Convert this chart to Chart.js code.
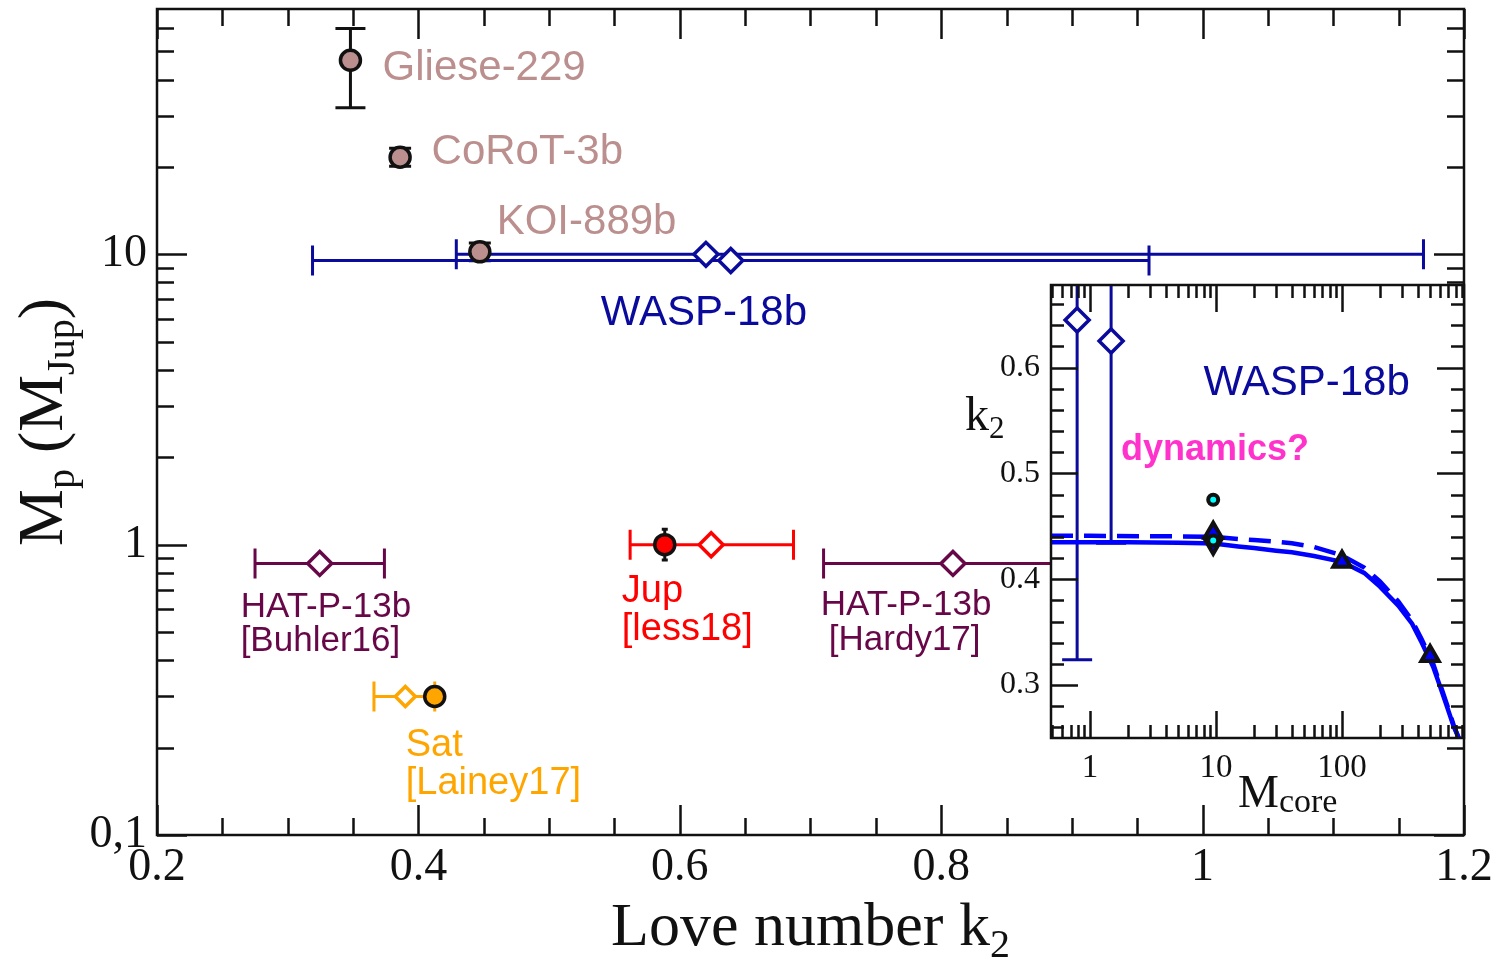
<!DOCTYPE html>
<html>
<head>
<meta charset="utf-8">
<title>Love number k2 vs planet mass</title>
<script src="https://cdn.jsdelivr.net/npm/chart.js@4.4.1/dist/chart.umd.min.js"></script>
<style>
  html, body { margin: 0; padding: 0; background: #fff; }
  #wrap { position: relative; width: 1502px; height: 958px; overflow: hidden; }
  #wrap canvas { position: absolute; }
  #main { left: 0; top: 0; }
  #inset { left: 940px; top: 270px; }
</style>
</head>
<body>
<div id="wrap">
  <canvas id="main" width="1502" height="958"></canvas>
  <canvas id="inset" width="562" height="588"></canvas>
</div>
<script>
const SERIF = '"Liberation Serif", "Times New Roman", serif';
const SANS = '"Liberation Sans", Arial, Helvetica, sans-serif';

const ROSY = "#bc8f8f";
const NAVY = "#0a0a9c";
const MAROON = "#670748";
const ORANGE = "#ffa500";
const RED = "#ff0000";
const BLUE = "#0000ff";
const INK = "#111111";

// ---- main panel: planet mass vs Love number ----
const k2Ticks = [0.2, 0.4, 0.6, 0.8, 1.0, 1.2];
const k2TickLabels = ["0.2", "0.4", "0.6", "0.8", "1", "1.2"];
const massTicks = [0.1, 1, 10];
const massTickLabels = ["0,1", "1", "10"];

// Gliese-229, CoRoT-3b, KOI-889b (filled circles, mass errors)
const bdK2 = [0.348, 0.386, 0.447];
const bdMass = [46.6, 21.6, 10.2];
const bdMassLo = [32.0, 20.1, 9.5];
const bdMassHi = [60.0, 23.2, 10.95];

// WASP-18b, two k2 determinations
const waspK2 = [0.620, 0.639];
const waspMass = [10.0, 9.53];
const waspK2Lo = [0.429, 0.319];
const waspK2Hi = [1.169, 0.959];

// HAT-P-13b: Buhler16, Hardy17
const hatK2 = [0.3245, 0.809];
const hatMass = [0.862, 0.862];
const hatK2Lo = [0.275, 0.710];
const hatK2Hi = [0.374, 0.908];

// Jupiter: Iess18 measurement and interior model
const jupK2 = [0.624];
const jupMass = [1.0];
const jupK2Lo = [0.562];
const jupK2Hi = [0.687];
const jupModelK2 = [0.5885];
const jupModelMass = [1.0];
const jupModelMassLo = [0.885];
const jupModelMassHi = [1.13];

// Saturn: Lainey17 measurement and interior model
const satK2 = [0.390];
const satMass = [0.30];
const satK2Lo = [0.366];
const satK2Hi = [0.4125];
const satModelK2 = [0.4125];
const satModelMass = [0.30];

// ---- inset: WASP-18b k2 vs core mass ----
const coreTicks = [1, 10, 100];
const coreTickLabels = ["1", "10", "100"];
const insetK2Ticks = [0.3, 0.4, 0.5, 0.6];
const insetK2TickLabels = ["0.3", "0.4", "0.5", "0.6"];

const fitCore = [0.49, 1, 2, 5, 8, 10, 15, 20, 30, 40, 60, 100, 150, 200, 280, 360, 430, 530, 600, 680, 770, 845];
const fitK2 = [0.435, 0.435, 0.435, 0.4345, 0.434, 0.4335, 0.431, 0.4295, 0.427, 0.4255, 0.422, 0.4165, 0.406, 0.393, 0.375, 0.358, 0.340, 0.317, 0.299, 0.280, 0.261, 0.250];
const fitCoreAlt = [0.49, 1, 5, 10, 15, 20, 30, 40, 60, 100, 150, 200, 280, 360, 430, 530, 600, 680, 770, 845];
const fitK2Alt = [0.441, 0.441, 0.4405, 0.440, 0.438, 0.437, 0.4355, 0.434, 0.4305, 0.4225, 0.411, 0.398, 0.379, 0.361, 0.343, 0.320, 0.301, 0.282, 0.262, 0.250];

const obsCore = [0.79, 1.47];
const obsK2 = [0.645, 0.625];
const obsK2Lo = [0.324, 0.434];
const obsK2Hi = [0.966, 0.816];

const modelUpCore = [9.5, 100, 500];
const modelUpK2 = [0.4439, 0.4165, 0.3275];
const modelDownCore = [9.5];
const modelDownK2 = [0.4335];
const dynCore = [9.5, 9.5];
const dynK2 = [0.4751, 0.4366];

// ---- helpers ----
const pts = (xs, ys) => xs.map((v, i) => ({ x: v, y: ys[i] }));
const pairs = (lo, hi) => lo.map((v, i) => [v, hi[i]]);

function diamonds(xs, ys, color, lo, hi, radius) {
  return {
    data: pts(xs, ys),
    pointStyle: "rectRot",
    pointRadius: radius || 12,
    borderWidth: 3.5,
    borderColor: color,
    backgroundColor: "#ffffff",
    xErr: lo ? pairs(lo, hi) : null,
    errColor: color,
  };
}

function discs(xs, ys, fill, lo, hi, cap) {
  return {
    data: pts(xs, ys),
    pointStyle: "circle",
    pointRadius: 10,
    borderWidth: 3.5,
    borderColor: INK,
    backgroundColor: fill,
    yErr: lo ? pairs(lo, hi) : null,
    errColor: INK,
    capHalf: cap,
  };
}

// error bars are drawn under the markers, clipped to the plot area
function errorBarPlugin(capHalf) {
  return {
    id: "errorBars",
    beforeDatasetsDraw(chart) {
      const { ctx, chartArea: a, scales: { x, y } } = chart;
      ctx.save();
      ctx.beginPath();
      ctx.rect(a.left, a.top, a.right - a.left, a.bottom - a.top);
      ctx.clip();
      chart.data.datasets.forEach((ds) => {
        if (!ds.xErr && !ds.yErr) return;
        ctx.strokeStyle = ds.errColor;
        ctx.lineWidth = 3;
        ds.data.forEach((p, i) => {
          const cap = Array.isArray(ds.capHalf) ? ds.capHalf[i] : (ds.capHalf || capHalf);
          const px = x.getPixelForValue(p.x);
          const py = y.getPixelForValue(p.y);
          ctx.beginPath();
          if (ds.xErr) {
            const x0 = x.getPixelForValue(ds.xErr[i][0]);
            const x1 = x.getPixelForValue(ds.xErr[i][1]);
            ctx.moveTo(x0, py); ctx.lineTo(x1, py);
            ctx.moveTo(x0, py - cap); ctx.lineTo(x0, py + cap);
            ctx.moveTo(x1, py - cap); ctx.lineTo(x1, py + cap);
          }
          if (ds.yErr) {
            const y0 = y.getPixelForValue(ds.yErr[i][0]);
            const y1 = y.getPixelForValue(ds.yErr[i][1]);
            ctx.moveTo(px, y0); ctx.lineTo(px, y1);
            ctx.moveTo(px - cap, y0); ctx.lineTo(px + cap, y0);
            ctx.moveTo(px - cap, y1); ctx.lineTo(px + cap, y1);
          }
          ctx.stroke();
        });
      });
      ctx.restore();
    },
  };
}

// boxed frame with inward ticks on all four sides
function framePlugin(cfg) {
  return {
    id: "frame",
    beforeDraw(chart) {
      if (!cfg.fill) return;
      const { ctx, chartArea: a } = chart;
      ctx.save();
      ctx.fillStyle = cfg.fill;
      ctx.fillRect(a.left, a.top, a.right - a.left, a.bottom - a.top);
      ctx.restore();
    },
    afterDatasetsDraw(chart) {
      const { ctx, chartArea: a, scales: { x, y } } = chart;
      ctx.save();
      ctx.strokeStyle = INK;
      ctx.lineWidth = cfg.width;
      ctx.beginPath();
      const xMarks = (vals, len) => vals.forEach((v) => {
        const px = Math.round(x.getPixelForValue(v)) + 0.5;
        ctx.moveTo(px, a.bottom); ctx.lineTo(px, a.bottom - len);
        ctx.moveTo(px, a.top); ctx.lineTo(px, a.top + len);
      });
      const yMarks = (vals, len) => vals.forEach((v) => {
        const py = Math.round(y.getPixelForValue(v)) + 0.5;
        ctx.moveTo(a.left, py); ctx.lineTo(a.left + len, py);
        ctx.moveTo(a.right, py); ctx.lineTo(a.right - len, py);
      });
      xMarks(cfg.xMajor, cfg.major);
      xMarks(cfg.xMinor, cfg.minor);
      yMarks(cfg.yMajor, cfg.major);
      yMarks(cfg.yMinor, cfg.minor);
      ctx.stroke();
      ctx.strokeRect(a.left, a.top, a.right - a.left, a.bottom - a.top);
      ctx.restore();
    },
  };
}

// text labels anchored at data coordinates (left edge, vertical middle)
function notesPlugin(items) {
  return {
    id: "notes",
    afterDatasetsDraw(chart) {
      const { ctx, scales: { x, y } } = chart;
      ctx.save();
      ctx.textAlign = "left";
      ctx.textBaseline = "middle";
      items.forEach((n) => {
        ctx.font = (n.bold ? "bold " : "") + n.size + "px " + SANS;
        ctx.fillStyle = n.color;
        ctx.fillText(n.text, x.getPixelForValue(n.x), y.getPixelForValue(n.y));
      });
      ctx.restore();
    },
  };
}

// serif text with subscripts: parts = [text, size, baseline shift]
function drawParts(ctx, parts, x, y, center) {
  let w = 0;
  parts.forEach((p) => {
    ctx.font = p[1] + "px " + SERIF;
    w += ctx.measureText(p[0]).width;
  });
  let cx = center ? x - w / 2 : x;
  parts.forEach((p) => {
    ctx.font = p[1] + "px " + SERIF;
    ctx.fillText(p[0], cx, y + p[2]);
    cx += ctx.measureText(p[0]).width;
  });
}

function titlePlugin(draw) {
  return {
    id: "titles",
    afterDraw(chart) {
      const { ctx, chartArea } = chart;
      ctx.save();
      ctx.fillStyle = INK;
      ctx.textAlign = "left";
      ctx.textBaseline = "alphabetic";
      draw(ctx, chartArea);
      ctx.restore();
    },
  };
}

function fixedAxis(type, min, max, ticks, labels, size, pad, fit) {
  return {
    type: type,
    min: min,
    max: max,
    grid: { display: false, drawTicks: false },
    border: { display: false },
    afterBuildTicks: (s) => { s.ticks = ticks.map((v) => ({ value: v })); },
    ticks: {
      autoSkip: false,
      maxRotation: 0,
      padding: pad,
      color: INK,
      font: { family: SERIF, size: size },
      callback: (v, i) => labels[i],
    },
    afterFit: fit,
  };
}

function minorLinear(from, to, step, skip) {
  const out = [];
  for (let v = from; v <= to + 1e-9; v += step) {
    const r = Math.round(v * 1000) / 1000;
    if (!skip.some((s) => Math.abs(s - r) < 1e-6)) out.push(r);
  }
  return out;
}

function minorLog(min, max) {
  const out = [];
  for (let d = 0.1; d <= 1000; d *= 10) {
    for (let m = 2; m <= 9; m++) {
      const v = Math.round(m * d * 1000) / 1000;
      if (v > min && v < max) out.push(v);
    }
  }
  return out;
}

// ---- main chart ----
const mainNotes = [
  { text: "Gliese-229", x: 0.3726, y: 43.7, color: ROSY, size: 42 },
  { text: "CoRoT-3b", x: 0.4101, y: 22.4, color: ROSY, size: 42 },
  { text: "KOI-889b", x: 0.4599, y: 12.9, color: ROSY, size: 42 },
  { text: "WASP-18b", x: 0.5396, y: 6.26, color: NAVY, size: 42 },
  { text: "HAT-P-13b", x: 0.2640, y: 0.609, color: MAROON, size: 35 },
  { text: "[Buhler16]", x: 0.2640, y: 0.465, color: MAROON, size: 35 },
  { text: "Jup", x: 0.5556, y: 0.692, color: RED, size: 38 },
  { text: "[less18]", x: 0.5556, y: 0.512, color: RED, size: 38 },
  { text: "HAT-P-13b", x: 0.7079, y: 0.619, color: MAROON, size: 35 },
  { text: "[Hardy17]", x: 0.7140, y: 0.469, color: MAROON, size: 35 },
  { text: "Sat", x: 0.3903, y: 0.204, color: ORANGE, size: 38 },
  { text: "[Lainey17]", x: 0.3903, y: 0.150, color: ORANGE, size: 38 },
];

new Chart(document.getElementById("main"), {
  type: "scatter",
  data: {
    datasets: [
      discs(bdK2, bdMass, ROSY, bdMassLo, bdMassHi, [15, 11, 11]),
      discs(jupModelK2, jupModelMass, RED, jupModelMassLo, jupModelMassHi, 3),
      discs(satModelK2, satModelMass, ORANGE),
      diamonds(waspK2, waspMass, NAVY, waspK2Lo, waspK2Hi),
      diamonds(hatK2, hatMass, MAROON, hatK2Lo, hatK2Hi),
      diamonds(jupK2, jupMass, RED, jupK2Lo, jupK2Hi),
      diamonds(satK2, satMass, ORANGE, satK2Lo, satK2Hi, 10),
    ],
  },
  options: {
    responsive: false,
    animation: false,
    devicePixelRatio: 1,
    layout: { autoPadding: false, padding: { top: 9, right: 38, left: 0, bottom: 0 } },
    plugins: { legend: { display: false }, tooltip: { enabled: false } },
    scales: {
      x: fixedAxis("linear", 0.2, 1.2, k2Ticks, k2TickLabels, 46, 5, (s) => {
        s.height = 123; s.paddingLeft = 0; s.paddingRight = 0;
      }),
      y: fixedAxis("logarithmic", 0.1, 70, massTicks, massTickLabels, 46, 10, (s) => {
        s.width = 157; s.paddingTop = 0; s.paddingBottom = 0;
      }),
    },
  },
  plugins: [
    errorBarPlugin(15),
    framePlugin({
      width: 2.5, major: 30, minor: 17,
      xMajor: k2Ticks,
      xMinor: minorLinear(0.25, 1.15, 0.05, k2Ticks),
      yMajor: massTicks,
      yMinor: minorLog(0.1, 70),
    }),
    notesPlugin(mainNotes),
    titlePlugin((ctx, a) => {
      drawParts(ctx, [["Love number k", 62, 0], ["2", 40, 12]], (a.left + a.right) / 2, a.bottom + 110, true);
      ctx.translate(62, (a.top + a.bottom) / 2);
      ctx.rotate(-Math.PI / 2);
      drawParts(ctx, [["M", 64, 0], ["p", 40, 12], [" (M", 64, 0], ["Jup", 40, 12], [")", 64, 0]], 0, 0, true);
    }),
  ],
});

// ---- inset chart ----
const insetNotes = [
  { text: "WASP-18b", x: 7.97, y: 0.5849, color: NAVY, size: 42 },
  { text: "dynamics?", x: 1.76, y: 0.5224, color: "#ff33cc", size: 36, bold: true },
];

const obs = diamonds(obsCore, obsK2, NAVY, null, null, 12);
obs.yErr = pairs(obsK2Lo, obsK2Hi);

new Chart(document.getElementById("inset"), {
  type: "scatter",
  data: {
    datasets: [
      {
        data: pts(dynCore, dynK2),
        pointStyle: "circle", pointRadius: 5, borderWidth: 4,
        borderColor: INK, backgroundColor: "#00ffff",
      },
      {
        data: pts(modelUpCore, modelUpK2),
        pointStyle: "triangle", pointRadius: 10, borderWidth: 4,
        borderColor: INK, backgroundColor: BLUE,
      },
      {
        data: pts(modelDownCore, modelDownK2),
        pointStyle: "triangle", rotation: 180, pointRadius: 10, borderWidth: 4,
        borderColor: INK, backgroundColor: BLUE,
      },
      obs,
      {
        data: pts(fitCore, fitK2),
        showLine: true, pointRadius: 0, borderWidth: 4.5,
        borderColor: BLUE, tension: 0,
      },
      {
        data: pts(fitCoreAlt, fitK2Alt),
        showLine: true, pointRadius: 0, borderWidth: 4.5,
        borderColor: BLUE, borderDash: [22, 11], tension: 0,
      },
    ],
  },
  options: {
    responsive: false,
    animation: false,
    devicePixelRatio: 1,
    layout: { autoPadding: false, padding: { top: 15, right: 38, left: 0, bottom: 0 } },
    plugins: { legend: { display: false }, tooltip: { enabled: false } },
    scales: {
      x: fixedAxis("logarithmic", 0.49, 930, coreTicks, coreTickLabels, 33, 11, (s) => {
        s.height = 120; s.paddingLeft = 0; s.paddingRight = 0;
      }),
      y: fixedAxis("linear", 0.25, 0.678, insetK2Ticks, insetK2TickLabels, 32, 11, (s) => {
        s.width = 111; s.paddingTop = 0; s.paddingBottom = 0;
      }),
    },
  },
  plugins: [
    errorBarPlugin(15),
    framePlugin({
      fill: "#ffffff", width: 2.5, major: 27, minor: 13,
      xMajor: coreTicks,
      xMinor: minorLog(0.49, 930),
      yMajor: insetK2Ticks,
      yMinor: minorLinear(0.26, 0.66, 0.02, insetK2Ticks),
    }),
    notesPlugin(insetNotes),
    titlePlugin((ctx, a) => {
      drawParts(ctx, [["k", 48, 0], ["2", 31, 8]], a.left - 86, a.top + 145, false);
      drawParts(ctx, [["M", 46, 0], ["core", 34, 5]], a.left + 187, a.bottom + 69, false);
    }),
  ],
});
</script>
</body>
</html>
